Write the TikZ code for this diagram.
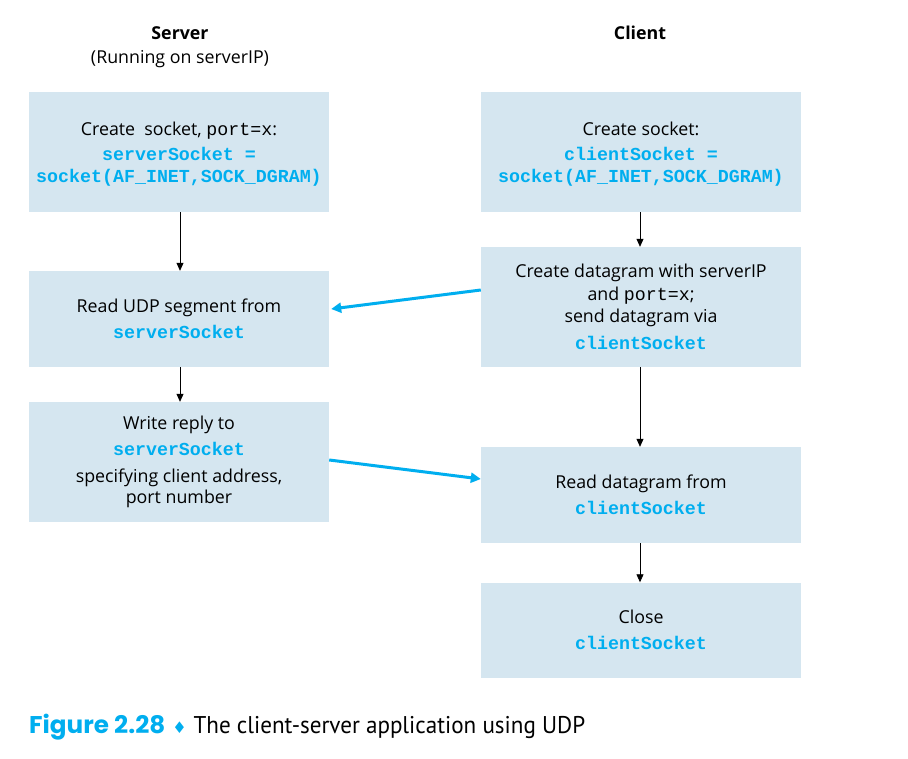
\documentclass[tikz,border=0pt]{standalone}
\usepackage{fontspec}
\setmainfont{Open Sans}
\setmonofont{Liberation Mono}
\newfontfamily\capfont{Poppins}
\newfontfamily\captextfont{PT Sans}
\newfontfamily\symfont{DejaVu Sans}
\usetikzlibrary{arrows.meta,calc}
\definecolor{boxfill}{HTML}{D5E6F0}
\definecolor{codeblue}{HTML}{00AEEF}
\newcommand{\code}[1]{{\ttfamily\bfseries\fontsize{18.3}{24}\selectfont\color{codeblue}#1}}
\newcommand{\plaincode}[1]{{\ttfamily\fontsize{18.3}{24}\selectfont #1}}
\begin{document}
\begin{tikzpicture}[x=1pt,y=-1pt,
  box/.style={fill=boxfill, draw=none, align=center, inner sep=0pt,
    minimum height=#1, font=\fontsize{17.8}{24.5}\selectfont},
  sbox/.style={box=#1, minimum width=300pt},
  cbox/.style={box=#1, minimum width=320pt},
  flow/.style={-{Triangle[length=8pt,width=7pt]}, line width=0.8pt, black},
  msg/.style={-{Triangle[length=10pt,width=10pt]}, line width=3pt, codeblue},
  head/.style={font=\fontsize{17.8}{24}\selectfont, align=center}]
\useasboundingbox (0,0) rectangle (908,759);
\fill[white] (0,0) rectangle (908,759);

\node[head] (hs) at (180,33) {\bfseries Server};
\node[head] (hs2) at (180,59) {(Running on serverIP)};
\node[head] (hc) at (640,33) {\bfseries Client};

\node[sbox=120pt] (s1) at (179,152) {\\[-6pt]Create\ \ socket, \plaincode{port=x}:\\ \code{serverSocket =}\\[-2pt] \code{socket(AF\_INET,SOCK\_DGRAM)}};
\node[sbox=96pt] (s2) at (179,319) {Read UDP segment from\\[2pt] \code{serverSocket}};
\node[sbox=120pt] (s3) at (179,462) {Write reply to\\[2pt] \code{serverSocket}\\[2pt] specifying client address,\\[-3pt] port number};

\node[cbox=120pt] (c1) at (641,152) {\\[-6pt]Create socket:\\ \code{clientSocket =}\\[-2pt] \code{socket(AF\_INET,SOCK\_DGRAM)}};
\node[cbox=120pt] (c2) at (641,307) {Create datagram with serverIP\\[-2pt] and \plaincode{port=x};\\[-2pt] send datagram via\\[2pt] \code{clientSocket}};
\node[cbox=96pt] (c3) at (641,495) {Read datagram from\\[2pt] \code{clientSocket}};
\node[cbox=95pt] (c4) at (641,630) {Close\\[2pt] \code{clientSocket}};

\draw[flow] (s1.south -| 180,0) -- (s2.north -| 180,0);
\draw[flow] (s2.south -| 180,0) -- (s3.north -| 180,0);
\draw[flow] (c1.south -| 640,0) -- (c2.north -| 640,0);
\draw[flow] (c2.south -| 640,0) -- (c3.north -| 640,0);
\draw[flow] (c3.south -| 640,0) -- (c4.north -| 640,0);

\draw[msg] ([yshift=17pt]c2.west) -- ([yshift=10pt,xshift=2pt]s2.east);
\draw[msg] ([yshift=2pt]s3.east) -- ([yshift=16pt]c3.west);

\node[anchor=west, inner sep=0pt] (cap) at (29,727) {\scalebox{1.12}[1.1]{\capfont\bfseries\fontsize{22}{24}\selectfont\color{codeblue}Figure 2.28}\hspace{7pt}{\symfont\fontsize{16}{20}\selectfont\color{codeblue}♦}\hspace{7pt}\scalebox{1.05}[1.1]{\captextfont\fontsize{22}{24}\selectfont The client-server application using UDP}};
\end{tikzpicture}
\end{document}
